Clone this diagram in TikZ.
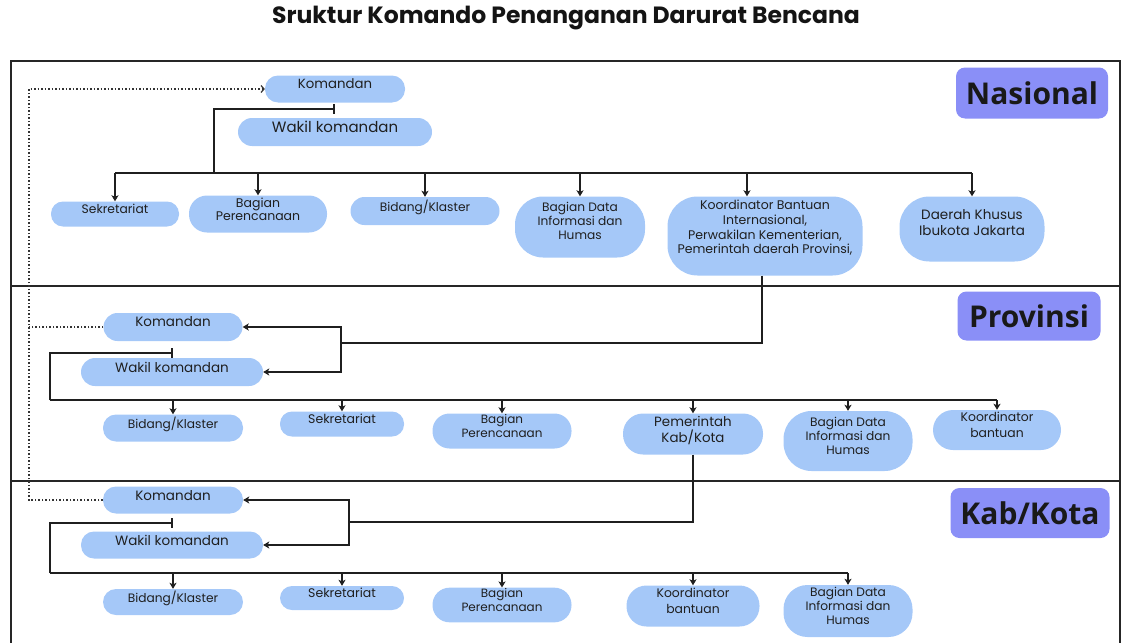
\documentclass[tikz,border=0pt]{standalone}
\usepackage{fontspec}
\setmainfont{Poppins}
\newfontfamily\lblfont{Open Sans}
\usetikzlibrary{arrows.meta}
\definecolor{nodeblue}{RGB}{165,200,248}
\definecolor{lblblue}{RGB}{138,143,247}
\begin{document}
\begin{tikzpicture}[x=1pt,y=-1pt,
  box/.style={fill=nodeblue, align=center, inner sep=1pt, text=black!88, text depth=10pt},
  txt/.style={align=center, inner sep=1pt, text=black!88},
  pill/.style n args={3}{minimum width=#1pt, minimum height=#2pt, rounded corners=#3pt},
  fs/.style 2 args={font=\fontsize{#1}{#2}\selectfont},
  lbl/.style={fill=lblblue, rounded corners=9pt, text=black!90, font=\lblfont\bfseries\fontsize{30}{32}\selectfont},
  conn/.style={line width=1.6pt, black!88},
  arr/.style={conn, -{Stealth[length=6pt,width=7pt,inset=1.5pt]}},
  tee/.style={conn, -{Bar[width=10pt]}},
  dotl/.style={line width=1.5pt, dotted, black!80}
]
\useasboundingbox (0,0) rectangle (1123,642);
\clip (0,0) rectangle (1123,642);

% title
\node[font=\bfseries\fontsize{23.5}{26}\selectfont, text=black!92] (title) at (566,18) {Sruktur Komando Penanganan Darurat Bencana};

% frame
\draw[line width=1.8pt, black!85] (11,650) -- (11,61) -- (1120,61) -- (1120,650);
\draw[line width=1.8pt, black!85] (11,286) -- (1120,286);
\draw[line width=1.8pt, black!85] (11,481) -- (1120,481);

% level labels
\node[lbl, minimum width=152pt, minimum height=51pt] (lnas) at (1032,93) {Nasional};
\node[lbl, minimum width=143pt, minimum height=49pt] (lprov) at (1029,316) {Provinsi};
\node[lbl, minimum width=159pt, minimum height=50pt] (lkab) at (1030,513) {Kab/Kota};

% ---------- Nasional ----------
\node[box, pill={140}{27}{13}, fs={13.3}{15}] (nkom) at (335,89) {Komandan};
\node[box, pill={194}{28}{14}, fs={15}{17}] (nwak) at (335,132) {Wakil komandan};
\node[box, pill={128}{25}{12}, fs={12.3}{14}] (nsek) at (115,214) {Sekretariat};
\node[box, pill={138}{37}{18}, fs={12.5}{13.5}] (nper) at (258,214) {Bagian\\Perencanaan};
\node[box, pill={149}{28}{14}, fs={12.2}{14}] (nbid) at (425,211) {Bidang/Klaster};
\node[box, pill={130}{61}{28}] (ndat) at (580,227) {};
\node[txt, fs={12.2}{14}] (ndatt) at (580,221) {Bagian Data\\Informasi dan\\Humas};
\node[box, pill={195}{79}{30}] (nkoo) at (765,236) {};
\node[txt, fs={12.5}{14.7}] (nkoot) at (765,228) {Koordinator Bantuan\\Internasional,\\Perwakilan Kementerian,\\Pemerintah daerah Provinsi,};
\node[box, pill={145}{65}{30}] (ndki) at (972,229) {};
\node[txt, fs={13.5}{16}] (ndkit) at (972,223) {Daerah Khusus\\Ibukota Jakarta};

\coordinate (nteeL) at (214,109);
\coordinate (nbusL) at (115,173);
\coordinate (nbusR) at (972,173);
\coordinate (nbusJ) at (214,173);
\coordinate (nkooX) at (747,173);
\draw[tee] (nbusJ) |- (nkom.south |- nteeL);
\draw[conn] (nbusL) -- (nbusR);
\draw[arr] (nbusL) -- (nsek.north);
\draw[arr] (nper.north |- nbusL) -- (nper.north);
\draw[arr] (nbid.north |- nbusL) -- (nbid.north);
\draw[arr] (ndat.north |- nbusL) -- (ndat.north);
\draw[arr] (nkooX) -- (nkooX |- nkoo.north);
\draw[arr] (nbusR) -- (ndki.north);

% ---------- Provinsi ----------
\node[box, pill={139}{28}{14}, fs={13.5}{15}] (pkom) at (173,327) {Komandan};
\node[box, pill={182}{28}{14}, fs={13.5}{15}] (pwak) at (172,372) {Wakil komandan};
\node[box, pill={140}{27}{13}, fs={12.2}{14}] (pbid) at (173,428) {Bidang/Klaster};
\node[box, pill={124}{25}{12}, fs={12.5}{14}] (psek) at (342,424) {Sekretariat};
\node[box, pill={139}{35}{17}, fs={12}{13.5}] (pper) at (502,431) {Bagian\\Perencanaan};
\node[box, pill={140}{41}{20}, fs={13.4}{16}] (ppem) at (693,434) {Pemerintah\\Kab/Kota};
\node[box, pill={129}{60}{28}] (pdat) at (848,441) {};
\node[txt, fs={12.2}{14}] (pdatt) at (848,436) {Bagian Data\\Informasi dan\\Humas};
\node[box, pill={128}{40}{20}, fs={12.4}{16}] (pkoo) at (997,430) {Koordinator\\bantuan};

\coordinate (pteeL) at (50,353);
\coordinate (pbusL) at (50,400);
\coordinate (pbusR) at (997,400);
\draw[tee] (pbusL) |- (pkom.south |- pteeL);
\draw[conn] (pbusL) -- (pbusR);
\draw[arr] (pbid.north |- pbusL) -- (pbid.north);
\draw[arr] (psek.north |- pbusL) -- (psek.north);
\draw[arr] (pper.north |- pbusL) -- (pper.north);
\draw[arr] (ppem.north |- pbusL) -- (ppem.north);
\draw[arr] (pdat.north |- pbusL) -- (pdat.north);
\draw[arr] (pbusR) -- (pkoo.north);

% Nasional -> Provinsi
\coordinate (npdown) at (762,343);
\coordinate (npjun) at (341,343);
\draw[conn] (npdown |- nkoo.south) -- (npdown) -- (npjun);
\draw[arr] (npjun) |- (pkom.east);
\draw[arr] (npjun) |- (pwak.east);

% ---------- Kab/Kota ----------
\node[box, pill={140}{27}{13}, fs={13.5}{15}] (kkom) at (173,500) {Komandan};
\node[box, pill={182}{27}{13}, fs={13.5}{15}] (kwak) at (172,545) {Wakil komandan};
\node[box, pill={140}{26}{13}, fs={12.2}{14}] (kbid) at (173,602) {Bidang/Klaster};
\node[box, pill={124}{24}{12}, fs={12.5}{14}] (ksek) at (342,598) {Sekretariat};
\node[box, pill={139}{34}{17}, fs={12}{13.5}] (kper) at (502,605) {Bagian\\Perencanaan};
\node[box, pill={133}{41}{20}, fs={12.4}{16}] (kkoo) at (693,606) {Koordinator\\bantuan};
\node[box, pill={129}{52}{24}, fs={12.2}{14}] (kdat) at (848,611) {Bagian Data\\Informasi dan\\Humas};

\coordinate (kteeL) at (50,523);
\coordinate (kbusL) at (50,573);
\coordinate (kbusR) at (848,573);
\draw[tee] (kbusL) |- (kkom.south |- kteeL);
\draw[conn] (kbusL) -- (kbusR);
\draw[arr] (kbid.north |- kbusL) -- (kbid.north);
\draw[arr] (ksek.north |- kbusL) -- (ksek.north);
\draw[arr] (kper.north |- kbusL) -- (kper.north);
\draw[arr] (kkoo.north |- kbusL) -- (kkoo.north);
\draw[arr] (kbusR) -- (kdat.north);

% Provinsi -> Kab/Kota
\coordinate (pkdown) at (693,522);
\coordinate (pkjun) at (349,522);
\draw[conn] (ppem.south) -- (pkdown) -- (pkjun);
\draw[arr] (pkjun) |- (kkom.east);
\draw[arr] (pkjun) |- (kwak.east);

% dotted command line
\coordinate (dtop) at (29,89);
\draw[dotl, -{Straight Barb[length=3pt,width=7pt,line width=1.2pt]}] (kkom.west) -| (dtop) -- (nkom.west);
\draw[dotl] (pkom.west) -- (pkom.west -| dtop);
\end{tikzpicture}
\end{document}
